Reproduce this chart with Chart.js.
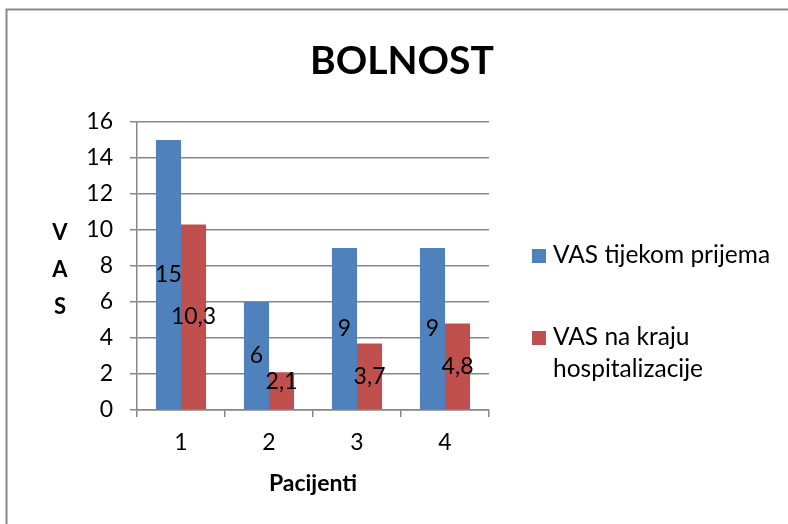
<!DOCTYPE html>
<html>
<head>
<meta charset="utf-8">
<script src="https://cdn.jsdelivr.net/npm/chart.js@4/dist/chart.umd.min.js"></script>
<style>
  html, body { margin: 0; padding: 0; background: #fff; overflow: hidden; }
  canvas { display: block; }
</style>
</head>
<body>
<canvas id="c" width="788" height="524"></canvas>
<script>
// ---- data ----
const chartTitle = 'BOLNOST';
const categories = ['1', '2', '3', '4'];
const seriesNames = ['VAS tijekom prijema', 'VAS na kraju hospitalizacije'];
const admissionVAS = [15, 6, 9, 9];
const dischargeVAS = [10.3, 2.1, 3.7, 4.8];
const yTicks = [0, 2, 4, 6, 8, 10, 12, 14, 16];
const xAxisTitle = 'Pacijenti';
const yAxisTitle = 'VAS';

const FONT = 'Lato, "Open Sans", sans-serif';
const BLUE = '#4F81BD';
const RED = '#C0504D';
const GRID = '#878787';

const decorPlugin = {
  id: 'decor',
  beforeDraw(chart) {
    const ctx = chart.ctx;
    ctx.save();
    ctx.fillStyle = '#fff';
    ctx.fillRect(0, 0, chart.width, chart.height);
    ctx.strokeStyle = GRID;
    ctx.lineWidth = 2;
    ctx.beginPath();
    ctx.moveTo(chart.width + 5, 9.5);
    ctx.lineTo(6.5, 9.5);
    ctx.lineTo(6.5, chart.height + 5);
    ctx.stroke();
    ctx.restore();
  },
  afterDatasetsDraw(chart) {
    const ctx = chart.ctx;
    const area = chart.chartArea;
    ctx.save();
    ctx.fillStyle = '#000';
    ctx.font = '23px ' + FONT;
    ctx.textAlign = 'center';
    ctx.textBaseline = 'middle';
    chart.data.datasets.forEach((ds, di) => {
      const meta = chart.getDatasetMeta(di);
      meta.data.forEach((bar, i) => {
        const v = ds.data[i];
        let y = (bar.y + bar.base) / 2;
        y = Math.min(y, area.bottom - 28);
        ctx.fillText(String(v).replace('.', ','), bar.x, y);
      });
    });
    ctx.restore();
  },
  afterDraw(chart) {
    const ctx = chart.ctx;
    ctx.save();
    // main title
    ctx.fillStyle = '#000';
    ctx.font = 'bold 39px ' + FONT;
    ctx.textAlign = 'center';
    ctx.textBaseline = 'middle';
    ctx.fillText(chartTitle, 402, 61);
    // stacked y-axis title
    ctx.font = 'bold 22px ' + FONT;
    const letters = yAxisTitle.split('');
    letters.forEach((ch, i) => ctx.fillText(ch, 60, 233 + i * 37));
    // legend
    ctx.font = '24.5px ' + FONT;
    ctx.textAlign = 'left';
    ctx.textBaseline = 'alphabetic';
    const entries = chart.data.datasets.map(d => ({ label: d.label, color: d.backgroundColor }));
    const maxW = 788 - 553 - 4;
    let y = 263;
    entries.forEach((e, k) => {
      ctx.fillStyle = e.color;
      ctx.fillRect(532, y - 14, 14, 14);
      ctx.fillStyle = '#000';
      const words = e.label.split(' ');
      const lines = [];
      let cur = '';
      words.forEach(w => {
        const t = cur ? cur + ' ' + w : w;
        if (ctx.measureText(t).width > maxW && cur) { lines.push(cur); cur = w; }
        else cur = t;
      });
      if (cur) lines.push(cur);
      lines.forEach((ln, j) => ctx.fillText(ln, 553, y + j * 32));
      y += 82;
    });
    ctx.restore();
  }
};

new Chart(document.getElementById('c'), {
  type: 'bar',
  data: {
    labels: categories,
    datasets: [
      { label: seriesNames[0], data: admissionVAS, backgroundColor: BLUE, borderWidth: 0,
        categoryPercentage: 0.57, barPercentage: 1.0 },
      { label: seriesNames[1], data: dischargeVAS, backgroundColor: RED, borderWidth: 0,
        categoryPercentage: 0.57, barPercentage: 1.0 }
    ]
  },
  options: {
    responsive: false,
    animation: false,
    devicePixelRatio: 1,
    layout: { padding: { top: 122, right: 299, left: 0, bottom: 0 } },
    plugins: {
      legend: { display: false },
      title: { display: false },
      tooltip: { enabled: false }
    },
    scales: {
      x: {
        grid: { drawOnChartArea: false, color: GRID, tickLength: 7, offset: true, lineWidth: 1.5 },
        border: { color: GRID, width: 1.5 },
        ticks: { color: '#000', font: { family: FONT, size: 23 }, padding: 12 },
        title: { display: true, text: xAxisTitle, color: '#000',
                 font: { family: FONT, size: 23, weight: 'bold' }, padding: { top: 0, bottom: 27 } },
        afterFit(s) { s.height = 114; }
      },
      y: {
        min: 0, max: 16,
        afterBuildTicks(s) { s.ticks = yTicks.map(v => ({ value: v })); },
        grid: { color: GRID, tickLength: 7, lineWidth: 1.5 },
        border: { color: GRID, width: 1.5 },
        ticks: { color: '#000', font: { family: FONT, size: 23 }, padding: 17 },
        afterFit(s) { s.width = 137; }
      }
    }
  },
  plugins: [decorPlugin]
});
</script>
</body>
</html>
